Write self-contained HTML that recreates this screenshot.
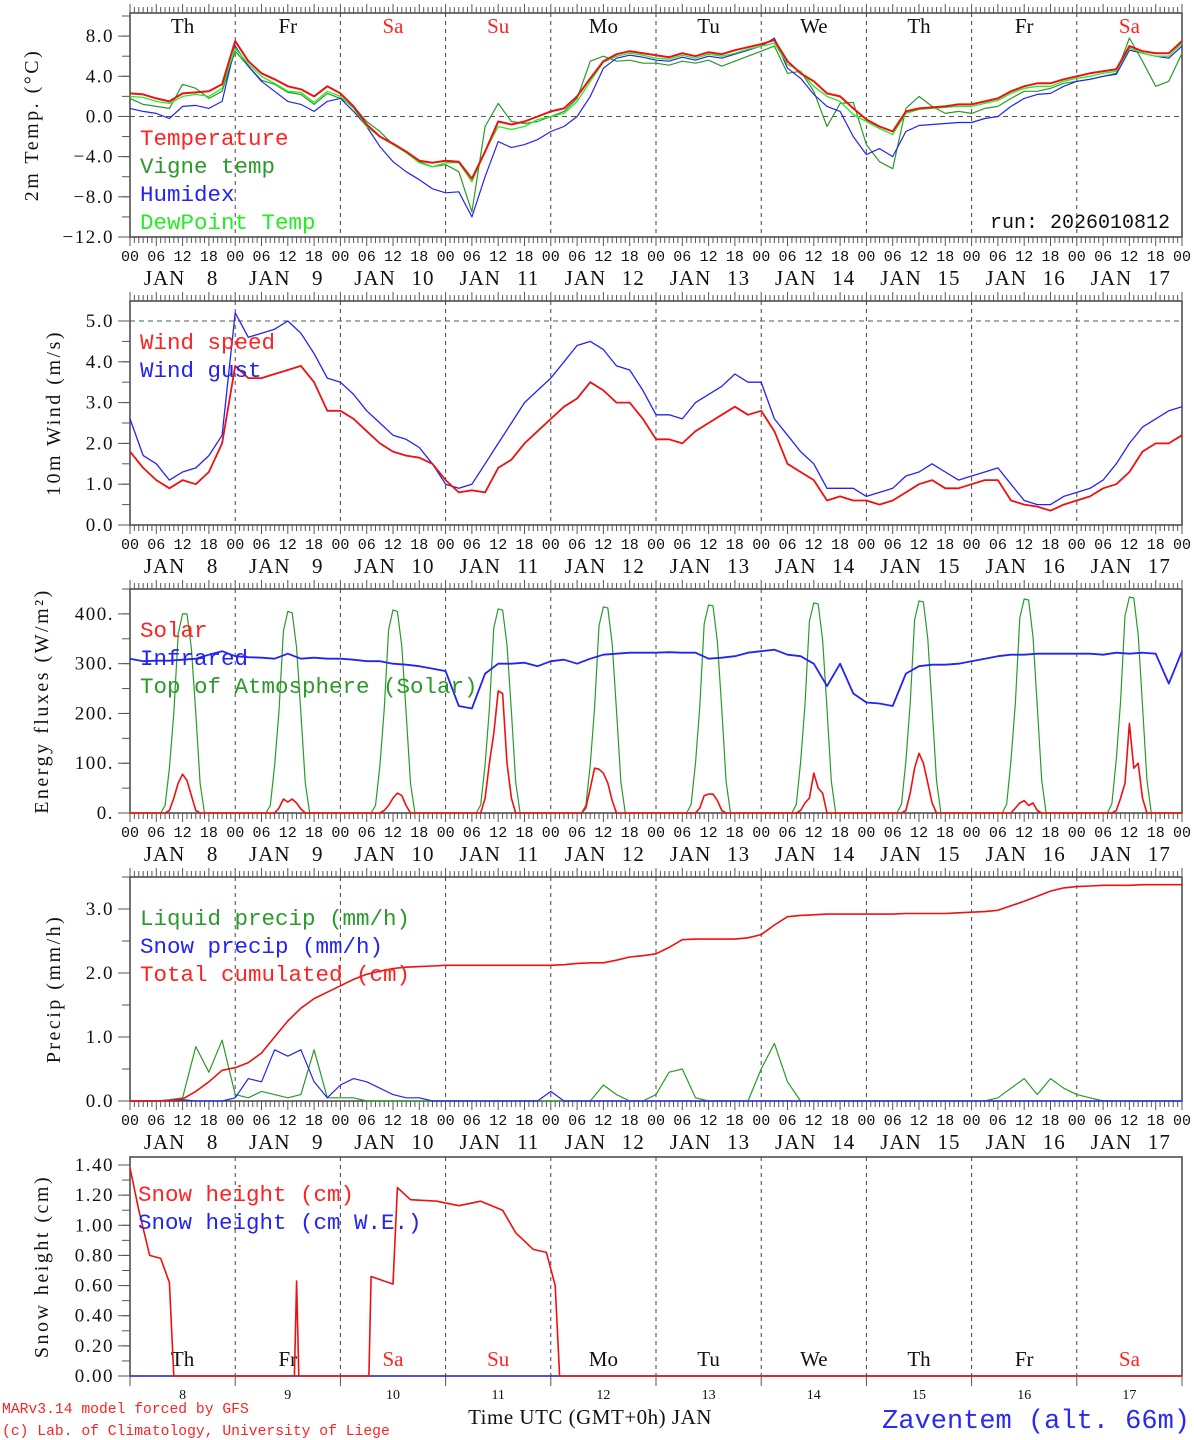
<!DOCTYPE html>
<html><head><meta charset="utf-8"><style>
html,body{margin:0;padding:0;background:#fff;}
svg{display:block;}
text{font-family:"Liberation Serif",serif;}
.mono{font-family:"Liberation Mono",monospace;}
</style></head><body>
<svg id="chart" width="1194" height="1440" viewBox="0 0 1194 1440" xmlns="http://www.w3.org/2000/svg"></svg>
<script>
// ---- data (3-hourly, hour 0 = Jan 8 00 UTC) ----
const dayNames = ["Th","Fr","Sa","Su","Mo","Tu","We","Th","Fr","Sa"];
const dayNums = ["8","9","10","11","12","13","14","15","16","17"];
const tempVals = [2.3,2.2,1.8,1.5,2.3,2.4,2.5,3.2, 7.5,5.5,4.3,3.7,3.0,2.7,2.0,3.0, 2.3,1.0,-0.8,-2.0,-2.7,-3.5,-4.4,-4.6, -4.4,-4.5,-6.2,-3.5,-0.5,-0.8,-0.5,0.0, 0.5,0.8,2.0,3.8,5.5,6.2,6.5,6.3, 6.1,5.9,6.3,6.0,6.4,6.2,6.6,6.9, 7.2,7.6,5.5,4.3,3.5,2.3,2.0,0.8, -0.3,-1.0,-1.5,0.5,0.8,0.9,1.0,1.2, 1.2,1.5,1.8,2.5,3.0,3.3,3.3,3.7, 4.0,4.3,4.5,4.7,7.0,6.5,6.3,6.3,7.5];
const humidexVals = [0.8,0.5,0.3,-0.2,1.0,1.1,0.8,1.5, 7.0,5.0,3.5,2.5,1.5,1.2,0.5,1.5, 1.8,0.5,-1.0,-3.0,-4.5,-5.5,-6.3,-7.2, -7.6,-7.5,-10.0,-6.0,-2.5,-3.1,-2.8,-2.3, -1.5,-1.0,0.0,2.0,4.8,5.8,6.1,5.9, 5.6,5.5,5.9,5.6,6.0,5.8,6.2,6.6, 7.0,7.8,4.8,3.8,2.2,1.0,0.5,-2.0, -3.8,-3.2,-4.0,-1.5,-0.9,-0.8,-0.7,-0.6, -0.6,-0.2,0.0,1.0,1.8,2.2,2.3,3.0, 3.5,3.7,4.0,4.2,6.6,6.3,6.0,5.8,7.0];
const vigneVals = [1.8,1.2,1.0,0.8,3.2,2.8,1.8,2.5, 6.5,5.0,3.6,3.2,2.4,2.2,1.2,2.3, 1.8,1.0,-0.5,-1.5,-2.8,-3.5,-4.5,-5.0, -4.8,-5.5,-9.5,-1.0,1.3,-0.5,-0.7,-0.5, 0.0,0.5,1.8,5.5,6.0,5.5,5.6,5.3, 5.3,5.1,5.5,5.3,5.6,5.0,5.5,6.0, 6.5,7.0,4.3,4.5,2.5,-1.0,1.3,1.4, -2.8,-4.5,-5.2,0.8,2.0,1.0,0.3,0.5, 0.3,0.8,1.0,1.8,2.5,2.5,2.8,3.3, 3.5,3.7,4.0,4.3,7.8,5.5,3.0,3.5,6.3];
const dewVals = [2.0,1.9,1.5,1.3,2.0,2.2,2.0,2.8, 6.8,5.2,4.0,3.3,2.5,2.4,1.4,2.5, 2.0,0.8,-1.0,-2.0,-2.8,-3.6,-4.6,-5.0, -4.6,-4.6,-6.5,-3.5,-1.0,-1.3,-1.0,-0.3, 0.0,0.3,1.5,3.5,5.4,6.0,6.3,6.1, 5.8,5.7,6.1,5.8,6.2,6.0,6.3,6.7, 7.0,7.3,5.2,4.5,3.0,2.0,1.5,0.2, -0.5,-1.2,-1.8,0.3,0.7,0.8,0.9,1.0, 1.0,1.3,1.6,2.3,2.8,3.0,3.0,3.5, 3.8,4.0,4.3,4.5,6.8,6.3,6.0,6.0,7.3];
const windVals = [1.8,1.4,1.1,0.9,1.1,1.0,1.3,2.0, 3.9,3.6,3.6,3.7,3.8,3.9,3.5,2.8, 2.8,2.6,2.3,2.0,1.8,1.7,1.65,1.5, 1.1,0.8,0.85,0.8,1.4,1.6,2.0,2.3, 2.6,2.9,3.1,3.5,3.3,3.0,3.0,2.6, 2.1,2.1,2.0,2.3,2.5,2.7,2.9,2.7, 2.8,2.3,1.5,1.3,1.1,0.6,0.7,0.6, 0.6,0.5,0.6,0.8,1.0,1.1,0.9,0.9, 1.0,1.1,1.1,0.6,0.5,0.45,0.35,0.5, 0.6,0.7,0.9,1.0,1.3,1.8,2.0,2.0,2.2];
const gustVals = [2.6,1.7,1.5,1.1,1.3,1.4,1.7,2.2, 5.2,4.6,4.7,4.8,5.0,4.7,4.2,3.6, 3.5,3.2,2.8,2.5,2.2,2.1,1.9,1.5, 1.0,0.9,1.0,1.5,2.0,2.5,3.0,3.3, 3.6,4.0,4.4,4.5,4.3,3.9,3.8,3.3, 2.7,2.7,2.6,3.0,3.2,3.4,3.7,3.5, 3.5,2.6,2.2,1.8,1.5,0.9,0.9,0.9, 0.7,0.8,0.9,1.2,1.3,1.5,1.3,1.1, 1.2,1.3,1.4,1.0,0.6,0.5,0.5,0.7, 0.8,0.9,1.1,1.5,2.0,2.4,2.6,2.8,2.9];
const infraredVals = [310,305,306,306,308,310,318,325, 315,313,312,310,320,310,312,310, 310,308,305,305,300,298,295,290, 285,215,210,280,300,300,302,295, 305,308,300,310,318,320,322,322, 322,323,322,322,310,312,315,322, 325,328,318,315,300,255,300,240, 222,220,215,280,295,298,298,300, 305,310,315,318,318,320,320,320, 320,320,318,322,320,322,320,260,325];
// hourly daylight values, hours 7..17 for each day
const sunHours = [7,8,9,10,11,12,13,14,15,16,17];
const toaByDay = [
 [0,15,90,200,360,400,400,330,200,60,0],
 [0,15,95,205,365,405,402,332,200,60,0],
 [0,15,95,208,368,408,405,335,202,60,0],
 [0,16,97,210,372,410,408,338,204,62,0],
 [0,16,98,212,376,414,412,340,206,62,0],
 [0,17,100,215,380,418,416,344,208,63,0],
 [0,17,102,218,385,422,420,348,210,64,0],
 [0,18,104,220,388,426,424,350,212,65,0],
 [0,18,106,222,392,430,428,354,214,66,0],
 [0,19,108,225,396,434,432,358,216,67,0]];
const solarByDay = [
 [0,0,5,30,60,78,65,35,5,0,0],
 [0,0,0,10,28,22,28,20,8,0,0],
 [0,0,0,5,15,30,40,35,15,0,0],
 [0,0,30,100,160,245,240,100,30,0,0],
 [0,10,50,90,88,80,60,25,0,0,0],
 [0,0,0,10,35,38,38,25,5,0,0],
 [0,0,5,20,30,80,50,40,0,0,0],
 [0,0,5,40,90,120,100,60,20,0,0],
 [0,0,0,10,20,25,15,20,5,0,0],
 [0,0,5,30,60,180,90,100,30,0,0]];
const cumVals = [0,0,0,0.01,0.03,0.15,0.3,0.48, 0.52,0.6,0.75,1.0,1.25,1.45,1.6,1.7, 1.8,1.9,1.98,2.03,2.07,2.09,2.1,2.11, 2.12,2.12,2.12,2.12,2.12,2.12,2.12,2.12, 2.12,2.13,2.15,2.16,2.16,2.2,2.25,2.27, 2.3,2.4,2.52,2.53,2.53,2.53,2.53,2.55, 2.6,2.75,2.88,2.9,2.91,2.92,2.92,2.92, 2.92,2.92,2.92,2.93,2.93,2.93,2.93,2.94, 2.95,2.96,2.98,3.05,3.12,3.2,3.28,3.33, 3.35,3.36,3.37,3.37,3.37,3.38,3.38,3.38,3.38];
const liquidVals = [0,0,0,0.02,0.05,0.85,0.45,0.95, 0.1,0.05,0.15,0.1,0.05,0.1,0.8,0.05, 0.05,0.05,0,0,0,0,0,0, 0,0,0,0,0,0,0,0, 0,0,0,0,0.25,0.1,0,0, 0.1,0.45,0.5,0.05,0,0,0,0, 0.5,0.9,0.3,0,0,0,0,0, 0,0,0,0,0,0,0,0, 0,0,0.05,0.2,0.35,0.1,0.35,0.2, 0.1,0.05,0,0,0,0,0,0,0];
const snowVals = [0,0,0,0,0.02,0,0,0, 0.05,0.35,0.3,0.8,0.7,0.8,0.3,0.05, 0.25,0.35,0.3,0.2,0.1,0.05,0.05,0, 0,0,0,0,0,0,0,0, 0.15,0,0,0,0,0,0,0, 0,0,0,0,0,0,0,0, 0,0,0,0,0,0,0,0, 0,0,0,0,0,0,0,0, 0,0,0,0,0,0,0,0, 0,0,0,0,0,0,0,0,0];
const snowHHours = [0,2,4.5,7,9,10,37.5,38,38.5,54.5,55,60,61,64,70,75,80,85,88,92,95,97,98,240];
const snowHVals = [1.38,1.1,0.8,0.78,0.62,0,0,0.63,0,0,0.66,0.61,1.25,1.17,1.16,1.13,1.16,1.1,0.95,0.84,0.82,0.6,0,0];
const sweVals = [0,0];
const sweHours = [0,240];

const NS="http://www.w3.org/2000/svg";
const svg=document.getElementById('chart');
function el(tag,attrs,parent,txt){const e=document.createElementNS(NS,tag);for(const k in attrs)e.setAttribute(k,attrs[k]);if(txt!==undefined)e.textContent=txt;(parent||svg).appendChild(e);return e;}
const X0=130,X1=1182;
function xs(h){return X0+h*(X1-X0)/240;}
function mkY(top,bot,vmin,vmax){return v=>bot-(v-vmin)*(bot-top)/(vmax-vmin);}
function line(hours,vals,y,color,w,name){
  const pts=hours.map((h,i)=>xs(h).toFixed(1)+','+y(vals[i]).toFixed(1)).join(' ');
  const p=el('polyline',{points:pts,fill:'none',stroke:color,'stroke-width':w,'stroke-linejoin':'round'});
  
  
  return p;
}
const h3=[];for(let i=0;i<81;i++)h3.push(i*3);
function frame(top,bot,name,hourLabels){
  const g=el('g',{});
  
  
  el('rect',{x:X0,y:top,width:X1-X0,height:bot-top,fill:'none',stroke:'#444','stroke-width':1.5},g);
  for(let d=1;d<10;d++) el('line',{x1:xs(d*24),x2:xs(d*24),y1:top,y2:bot,stroke:'#444','stroke-width':1,'stroke-dasharray':'4,4'},g);
  if(hourLabels){
    for(let h=0;h<=240;h++){
      const L=(h%6==0)?9:6;
      el('line',{x1:xs(h),x2:xs(h),y1:top-L,y2:top,stroke:'#555','stroke-width':1},g);
      el('line',{x1:xs(h),x2:xs(h),y1:bot,y2:bot+L,stroke:'#555','stroke-width':1},g);
    }
    for(let d=0;d<10;d++){
      for(let k=0;k<4;k++) el('text',{x:xs(d*24+k*6),y:bot+24,'font-size':15,'text-anchor':'middle',fill:'#111','class':'mono'},g,['00','06','12','18'][k]);
      el('text',{x:xs(d*24+12)-18,y:bot+48,'font-size':21,'text-anchor':'middle',fill:'#111','letter-spacing':'1'},g,'JAN');
      el('text',{x:xs(d*24+12)+30,y:bot+48,'font-size':21,'text-anchor':'middle',fill:'#111','letter-spacing':'1'},g,dayNums[d]);
    }
    el('text',{x:xs(240),y:bot+24,'font-size':15,'text-anchor':'middle',fill:'#111','class':'mono'},g,'00');
  }
  return g;
}
function yaxis(top,bot,y,ticks,labels,minor,title,tx){
  const g=el('g',{});
  
  
  minor.forEach(v=>el('line',{x1:X0-8,x2:X0,y1:y(v),y2:y(v),stroke:'#555','stroke-width':1},g));
  ticks.forEach((v,i)=>{el('line',{x1:X0-12,x2:X0,y1:y(v),y2:y(v),stroke:'#555','stroke-width':1},g);
    el('text',{x:X0-16,y:y(v)+6,'font-size':19,'text-anchor':'end',fill:'#111','letter-spacing':'1.5'},g,labels[i]);});
  const t=el('text',{x:tx,y:(top+bot)/2,'font-size':20,'text-anchor':'middle',fill:'#111',transform:`rotate(-90 ${tx} ${(top+bot)/2})`,'letter-spacing':'2.5'},g,title);
  
  
  return g;
}
function legend(items,x,y0,dy){
  items.forEach((it,i)=>{const t=el('text',{x:x,y:y0+i*dy,'font-size':22.5,fill:it[1],'class':'mono'},svg,it[0]);
    
    });
}

// ---- Panel 1 Temperature ----
{const top=13,bot=237,y=mkY(top,bot,-12,10.3);
 frame(top,bot,'temperature-panel',true);
 el('line',{x1:X0,x2:X1,y1:y(0),y2:y(0),stroke:'#555','stroke-dasharray':'5,4'});
 const tv=[8,4,0,-4,-8,-12],mv=[];for(let v=-12;v<=10;v+=2)mv.push(v);
 yaxis(top,bot,y,tv,['8.0','4.0','0.0','\u22124.0','\u22128.0','\u221212.0'],mv,'2m Temp. (\u00B0C)',38);
 for(let d=0;d<10;d++){const t=el('text',{x:xs(d*24+12),y:33,'font-size':21,'text-anchor':'middle',fill:(dayNames[d]=='Sa'||dayNames[d]=='Su')?'#f22':'#111'},svg,dayNames[d]);
   }
 line(h3,vigneVals,y,'#2a9a2a',1.2,'vigne-temp-line');
 line(h3,humidexVals,y,'#2323f5',1.2,'humidex-line');
 line(h3,dewVals,y,'#22ee22',1.3,'dewpoint-line');
 line(h3,tempVals,y,'#f01010',2,'temperature-line');
 legend([['Temperature','#f22'],['Vigne temp','#2a9a2a'],['Humidex','#2323f5'],['DewPoint Temp','#22ee22']],140,145,28);
 el('text',{x:1170,y:228,'font-size':20,'text-anchor':'end',fill:'#111','class':'mono'},svg,'run: 2026010812');
}
// ---- Panel 2 Wind ----
{const top=301,bot=525,y=mkY(top,bot,0,5.49);
 frame(top,bot,'wind-panel',true);
 el('line',{x1:X0,x2:X1,y1:y(5),y2:y(5),stroke:'#555','stroke-dasharray':'5,4'});
 const mv=[];for(let v=0;v<=5;v+=0.5)mv.push(v);
 yaxis(top,bot,y,[0,1,2,3,4,5],['0.0','1.0','2.0','3.0','4.0','5.0'],mv,'10m Wind (m/s)',60);
 line(h3,gustVals,y,'#2323f5',1.3,'wind-gust-line');
 line(h3,windVals,y,'#f01010',1.8,'wind-speed-line');
 legend([['Wind speed','#f22'],['Wind gust','#2323f5']],140,349,28);
}
// ---- Panel 3 Energy ----
{const top=589,bot=813,y=mkY(top,bot,0,450);
 frame(top,bot,'energy-panel',true);
 const mv=[];for(let v=0;v<=450;v+=50)mv.push(v);
 yaxis(top,bot,y,[0,100,200,300,400],['0.','100.','200.','300.','400.'],mv,'Energy fluxes (W/m\u00B2)',48);
 const hh=[],toa=[],sol=[];
 hh.push(0);toa.push(0);sol.push(0);
 for(let d=0;d<10;d++){sunHours.forEach((h,i)=>{hh.push(d*24+h);toa.push(toaByDay[d][i]);sol.push(solarByDay[d][i]);});}
 hh.push(240);toa.push(0);sol.push(0);
 line(hh,toa,y,'#2a9a2a',1.2,'toa-solar-line');
 line(hh,sol,y,'#f01010',1.6,'solar-line');
 line(h3,infraredVals,y,'#2323f5',1.8,'infrared-line');
 legend([['Solar','#f22'],['Infrared','#2323f5'],['Top of Atmosphere (Solar)','#2a9a2a']],140,637,28);
}
// ---- Panel 4 Precip ----
{const top=877,bot=1101,y=mkY(top,bot,0,3.5);
 frame(top,bot,'precip-panel',true);
 const mv=[];for(let v=0;v<=3.5;v+=0.5)mv.push(v);
 yaxis(top,bot,y,[0,1,2,3],['0.0','1.0','2.0','3.0'],mv,'Precip (mm/h)',60);
 line(h3,liquidVals,y,'#2a9a2a',1.2,'liquid-precip-line');
 line(h3,snowVals,y,'#2323f5',1.2,'snow-precip-line');
 line(h3,cumVals,y,'#f01010',1.6,'cumulated-precip-line');
 legend([['Liquid precip (mm/h)','#2a9a2a'],['Snow precip (mm/h)','#2323f5'],['Total cumulated (cm)','#f22']],140,925,28);
}
// ---- Panel 5 Snow height ----
{const top=1157,bot=1376,y=mkY(top,bot,0,1.453);
 const g=el('g',{});
 
 
 el('rect',{x:X0,y:top,width:X1-X0,height:bot-top,fill:'none',stroke:'#444','stroke-width':1.5},g);
 for(let d=1;d<10;d++) el('line',{x1:xs(d*24),x2:xs(d*24),y1:top,y2:bot,stroke:'#444','stroke-width':1,'stroke-dasharray':'4,4'},g);
 for(let d=0;d<=10;d++) el('line',{x1:xs(d*24),x2:xs(d*24),y1:bot,y2:bot+10,stroke:'#555'},g);
 for(let d=0;d<10;d++){
   el('text',{x:xs(d*24+12),y:1399,'font-size':14,'text-anchor':'middle',fill:'#111'},g,dayNums[d]);
   el('text',{x:xs(d*24+12),y:1366,'font-size':21,'text-anchor':'middle',fill:(dayNames[d]=='Sa'||dayNames[d]=='Su')?'#f22':'#111'},g,dayNames[d]);
 }
 const mv=[];for(let v=0;v<=1.4001;v+=0.1)mv.push(v);
 const tv=[0,0.2,0.4,0.6,0.8,1.0,1.2,1.4];
 yaxis(top,bot,y,tv,tv.map(v=>v.toFixed(2)),mv,'Snow height (cm)',48);
 line(sweHours,sweVals,y,'#2323f5',1.2,'snow-we-line');
 line(snowHHours,snowHVals,y,'#f01010',1.6,'snow-height-line');
 legend([['Snow height (cm)','#f22'],['Snow height (cm W.E.)','#2323f5']],138,1201,28);
 el('text',{x:590,y:1424,'font-size':21,'text-anchor':'middle',fill:'#111','letter-spacing':'0.5'},svg,'Time UTC (GMT+0h) JAN');
 el('text',{x:2,y:1413,'font-size':14.7,fill:'#f22','class':'mono'},svg,'MARv3.14 model forced by GFS');
 el('text',{x:2,y:1435,'font-size':14.7,fill:'#f22','class':'mono'},svg,'(c) Lab. of Climatology, University of Liege');
 const st=el('text',{x:1190,y:1428,'font-size':27,'text-anchor':'end',fill:'#2a2af5','class':'mono'},svg,'Zaventem (alt. 66m)');
 
 
}
</script>
</body></html>
